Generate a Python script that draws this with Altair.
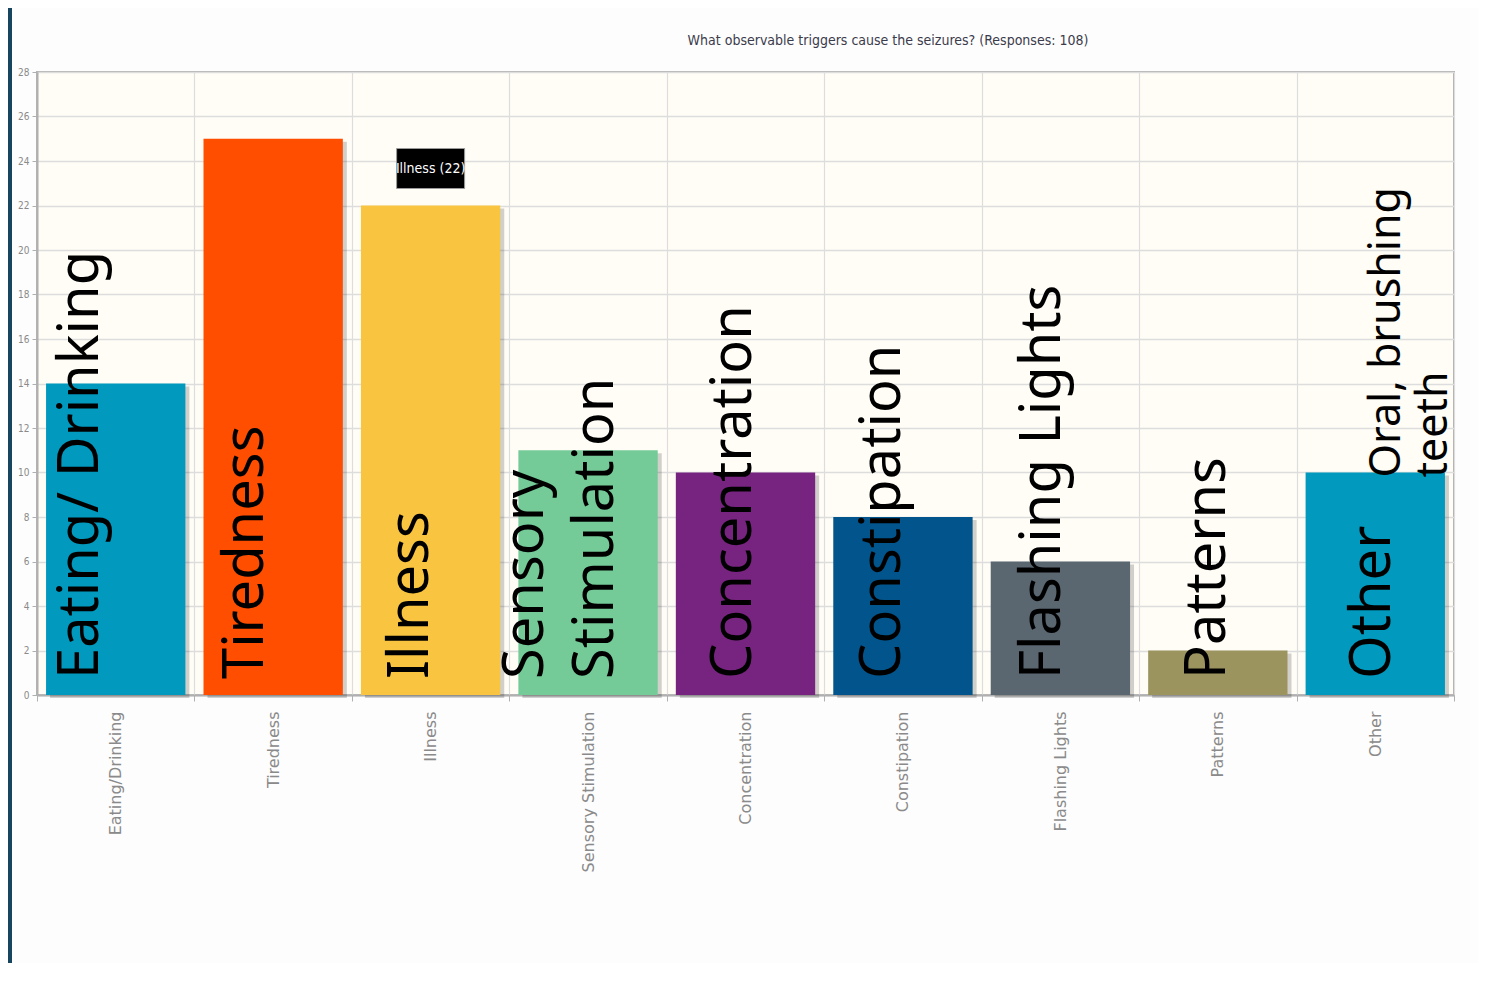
import altair as alt
import pandas as pd

# ---------------- data ----------------
categories = ["Eating/Drinking", "Tiredness", "Illness", "Sensory Stimulation",
              "Concentration", "Constipation", "Flashing Lights", "Patterns", "Other"]
counts = [14, 25, 22, 11, 10, 8, 6, 2, 10]
bar_colors = ["#0199bd", "#ff4e00", "#f9c540", "#74cb98", "#76247f",
              "#02558c", "#5a6670", "#9c945e", "#0199bd"]
y_ticks = list(range(0, 29, 2))
title_text = "What observable triggers cause the seizures? (Responses: 108)"
highlight_category = "Illness"

overlay_texts = ["Eating/ Drinking", "Tiredness", "Illness", "Sensory", "Stimulation",
                 "Concentration", "Constipation", "Flashing Lights", "Patterns", "Other",
                 "Oral, brushing", "teeth"]
overlay_categories = ["Eating/Drinking", "Tiredness", "Illness", "Sensory Stimulation",
                      "Sensory Stimulation", "Concentration", "Constipation",
                      "Flashing Lights", "Patterns", "Other", "Other", "Other"]
overlay_on_bar_top = [False, False, False, False, False, False, False, False, False, False,
                      True, True]

df = pd.DataFrame({"category": categories, "count": counts})
ov = pd.DataFrame({"category": overlay_categories, "text": overlay_texts,
                   "top": overlay_on_bar_top})
ov = ov.merge(df, on="category")
ov["ystart"] = ov.apply(lambda r: r["count"] if r["top"] else 0, axis=1)
title_df = pd.DataFrame({"t": [title_text]})

# ---------------- layout ----------------
W, H = 1417, 623
PAD_L, PAD_T, PAD_R, PAD_B = 29, 64, 24, 268
NARROW = "DejaVu Sans Condensed, Roboto Condensed, Liberation Sans, sans-serif"

# pixel offsets of the big overlay words (rotated frame: dy -> right, dx -> up)
overlay_dy = [-18, -10, -3, -45, 25, 5, -3, 0, 7, 15, 25, 72]
overlay_dx = [16, 16, 16, 16, 16, 16, 16, 16, 16, 16, -5, -5]
overlay_size = [56, 56, 56, 56, 56, 56, 56, 56, 56, 56, 43, 43]

x_enc = alt.X("category:N", sort=categories,
              scale=alt.Scale(paddingInner=0, paddingOuter=0),
              axis=alt.Axis(title=None, labelAngle=-90, labelColor="#8a8a8a",
                            labelFont="DejaVu Sans", labelFontSize=16,
                            labelPadding=10, tickBand="extent", tickSize=6,
                            tickColor="#b0b0b0", domainColor="#b0b0b0", domainWidth=2,
                            grid=True, gridColor="#dddddd", gridWidth=1.2,
                            labelAlign="right", labelBaseline="middle"))
y_scale = alt.Scale(domain=[0, 28], nice=False)
y_enc = alt.Y("count:Q", scale=y_scale,
              axis=alt.Axis(title=None, values=y_ticks, labelColor="#8a8a8a",
                            labelFont=NARROW, labelFontSize=10,
                            tickSize=5, tickColor="#b0b0b0", domainColor="#b0b0b0",
                            domainWidth=2, gridColor="#dddddd", gridWidth=1.5,
                            labelPadding=3))

base = alt.Chart(df)

strip = base.mark_rect(color="#17455f").encode(
    x=alt.value(-PAD_L), x2=alt.value(-PAD_L + 4),
    y=alt.value(-PAD_T), y2=alt.value(H + PAD_B))

title = alt.Chart(title_df).mark_text(
    font=NARROW, fontSize=14, color="#3b3b4b", align="center",
    baseline="alphabetic").encode(
    x=alt.value(851), y=alt.value(-27), text="t:N")

shadow = base.mark_bar(color="#000000", opacity=0.18, width=alt.RelativeBandSize(0.885),
                       xOffset=4, yOffset=3).encode(
    x=x_enc, y=y_enc)

bars = base.mark_bar(width=alt.RelativeBandSize(0.885)).encode(
    x=x_enc, y=y_enc,
    color=alt.Color("category:N", sort=categories,
                    scale=alt.Scale(domain=categories, range=bar_colors), legend=None))

tip_box = base.transform_filter(alt.datum.category == highlight_category).mark_bar(
    width=68, color="#000000", stroke="#9a9a9a", strokeWidth=1,
    yOffset=-57, y2Offset=-17).encode(
    x=alt.X("category:N", sort=categories), y=alt.Y("count:Q", scale=y_scale),
    y2="count:Q")

tip_text = base.transform_filter(alt.datum.category == highlight_category).transform_calculate(
    label="datum.category + ' (' + datum.count + ')'").mark_text(
    color="white", font=NARROW, fontSize=14, baseline="middle",
    align="center", dy=-37).encode(
    x=alt.X("category:N", sort=categories), y=alt.Y("count:Q", scale=y_scale),
    text="label:N")

layers = [strip, title, shadow, bars, tip_box, tip_text]
for i, t in enumerate(overlay_texts):
    layers.append(
        alt.Chart(ov).transform_filter(alt.datum.text == t).mark_text(
            angle=270, align="left", baseline="alphabetic", font="Noto Sans",
            fontSize=overlay_size[i], color="#000000", dx=overlay_dx[i],
            dy=overlay_dy[i]).encode(
            x=alt.X("category:N", sort=categories),
            y=alt.Y("ystart:Q", scale=y_scale),
            text="text:N"))

chart = alt.layer(*layers).properties(
    width=W, height=H,
    autosize=alt.AutoSizeParams(type="none"),
    padding={"left": PAD_L, "top": PAD_T, "right": PAD_R, "bottom": PAD_B},
    background="#fdfdfd",
).configure_view(fill="#fffdf6", stroke="#b0b0b0", strokeWidth=2)

chart.save("out.html", embed_options={"renderer": "svg", "actions": False})
